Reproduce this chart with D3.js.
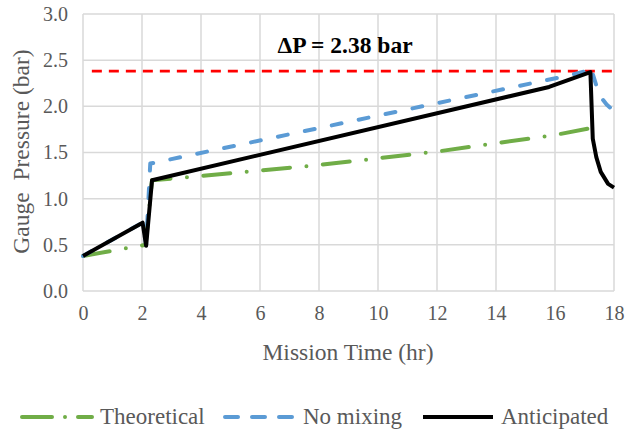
<!DOCTYPE html>
<html>
<head>
<meta charset="utf-8">
<script src="https://cdn.jsdelivr.net/npm/d3@7"></script>
<style>
  html, body { margin: 0; padding: 0; background: #fff; }
  svg { display: block; }
</style>
</head>
<body>
<svg id="chart" width="625" height="432"></svg>
<script>
// Mission time (hr) and gauge pressure (bar) for each scenario
const theoreticalTime = [0, 2.12, 2.34, 4, 8, 12, 16, 17.15, 17.28];
const theoreticalPressure = [0.38, 0.5, 1.2, 1.245, 1.365, 1.51, 1.69, 1.76, 1.65];

const noMixingTime = [0, 2.02, 2.14, 2.28, 16.4, 17.05, 17.2, 17.3, 17.5, 17.75, 18];
const noMixingPressure = [0.38, 0.74, 0.5, 1.38, 2.33, 2.38, 2.43, 2.33, 2.12, 2.02, 1.95];

const anticipatedTime = [0, 2.02, 2.14, 2.34, 15.8, 17.2, 17.28, 17.4, 17.55, 17.8, 18];
const anticipatedPressure = [0.38, 0.74, 0.49, 1.2, 2.21, 2.37, 1.65, 1.45, 1.29, 1.16, 1.12];

const deltaP = 2.38;
const deltaPStart = 0.3;

const xTicks = [0, 2, 4, 6, 8, 10, 12, 14, 16, 18];
const yTicks = [0, 0.5, 1.0, 1.5, 2.0, 2.5, 3.0];

const seriesNames = ["Theoretical", "No mixing", "Anticipated"];

const FONT = "Liberation Serif";
const GREY = "#595959";

const svg = d3.select("#chart");
const m = { left: 83, top: 14, right: 11, bottom: 141 };
const W = 625, H = 432;
const pw = W - m.left - m.right, ph = H - m.top - m.bottom;

const x = d3.scaleLinear().domain([0, 18]).range([m.left, m.left + pw]);
const y = d3.scaleLinear().domain([0, 3]).range([m.top + ph, m.top]);

// Gridlines (also form the plot frame)
const grid = svg.append("g");
grid.selectAll("line.h").data(yTicks).join("line").attr("class", "h")
  .attr("x1", x(0)).attr("x2", x(18))
  .attr("y1", d => y(d)).attr("y2", d => y(d))
  .attr("stroke", "#d9d9d9").attr("stroke-width", 1.5);
grid.selectAll("line.v").data(xTicks).join("line").attr("class", "v")
  .attr("y1", y(0)).attr("y2", y(3))
  .attr("x1", d => x(d)).attr("x2", d => x(d))
  .attr("stroke", "#d9d9d9").attr("stroke-width", 1.5);

// Tick labels
const xAxis = svg.append("g").attr("transform", `translate(0,${y(0)})`)
  .call(d3.axisBottom(x).tickValues(xTicks).tickSize(0).tickPadding(15).tickFormat(d3.format("d")));
const yAxis = svg.append("g").attr("transform", `translate(${x(0)},0)`)
  .call(d3.axisLeft(y).tickValues(yTicks).tickSize(0).tickPadding(15).tickFormat(d3.format(".1f")));
[xAxis, yAxis].forEach(a => {
  a.select(".domain").remove();
  a.attr("font-family", FONT).attr("font-size", 20);
  a.selectAll("text")
    .attr("font-family", FONT).attr("font-size", 20)
    .attr("fill", GREY);
});

const line = d3.line().x(d => x(d[0])).y(d => y(d[1]));
const zip = (t, p) => t.map((v, i) => [v, p[i]]);

// Reference line for the maximum pressure
svg.append("line")
  .attr("x1", x(deltaPStart)).attr("x2", x(18))
  .attr("y1", y(deltaP)).attr("y2", y(deltaP))
  .attr("stroke", "#ff0000").attr("stroke-width", 2.75)
  .attr("stroke-dasharray", "10,7");

const styles = [
  { color: "#70ad47", dash: "27,16.5,0,16.5", cap: "round" },
  { color: "#5b9bd5", dash: "10,17.5", cap: "round" },
  { color: "#000000", dash: null, cap: "butt" }
];
const data = [
  zip(theoreticalTime, theoreticalPressure),
  zip(noMixingTime, noMixingPressure),
  zip(anticipatedTime, anticipatedPressure)
];

data.forEach((d, i) => {
  svg.append("path").datum(d)
    .attr("d", line)
    .attr("fill", "none")
    .attr("stroke", styles[i].color)
    .attr("stroke-width", 4)
    .attr("stroke-linejoin", "round")
    .attr("stroke-linecap", styles[i].cap)
    .attr("stroke-dasharray", styles[i].dash);
});

svg.append("text")
  .attr("x", 345).attr("y", 53)
  .attr("text-anchor", "middle")
  .attr("font-family", FONT).attr("font-size", 23.5).attr("font-weight", "bold")
  .attr("fill", "#000")
  .text(`ΔP = ${deltaP} bar`);

svg.append("text")
  .attr("x", 348).attr("y", 360)
  .attr("text-anchor", "middle")
  .attr("font-family", FONT).attr("font-size", 23.5)
  .attr("fill", GREY)
  .text("Mission Time (hr)");

svg.append("text")
  .attr("transform", `translate(29,${y(1.5) - 1}) rotate(-90)`)
  .attr("text-anchor", "middle")
  .attr("font-family", FONT).attr("font-size", 23.5)
  .attr("fill", GREY)
  .attr("xml:space", "preserve")
  .style("white-space", "pre")
  .text("Gauge  Pressure (bar)");

// Legend
const legendX = [22, 225, 423];
const legendTextX = [100, 303, 501];
const legendY = 417;
const lg = svg.append("g");
seriesNames.forEach((name, i) => {
  lg.append("line")
    .attr("x1", legendX[i]).attr("x2", legendX[i] + 70)
    .attr("y1", legendY).attr("y2", legendY)
    .attr("stroke", styles[i].color).attr("stroke-width", 4)
    .attr("stroke-linecap", styles[i].cap)
    .attr("stroke-dasharray", i === 0 ? "30,13,0,13" : i === 1 ? "13,14" : null);
  lg.append("text")
    .attr("x", legendTextX[i]).attr("y", legendY + 7)
    .attr("font-family", FONT).attr("font-size", 23)
    .attr("fill", GREY)
    .text(name);
});
</script>
</body>
</html>
